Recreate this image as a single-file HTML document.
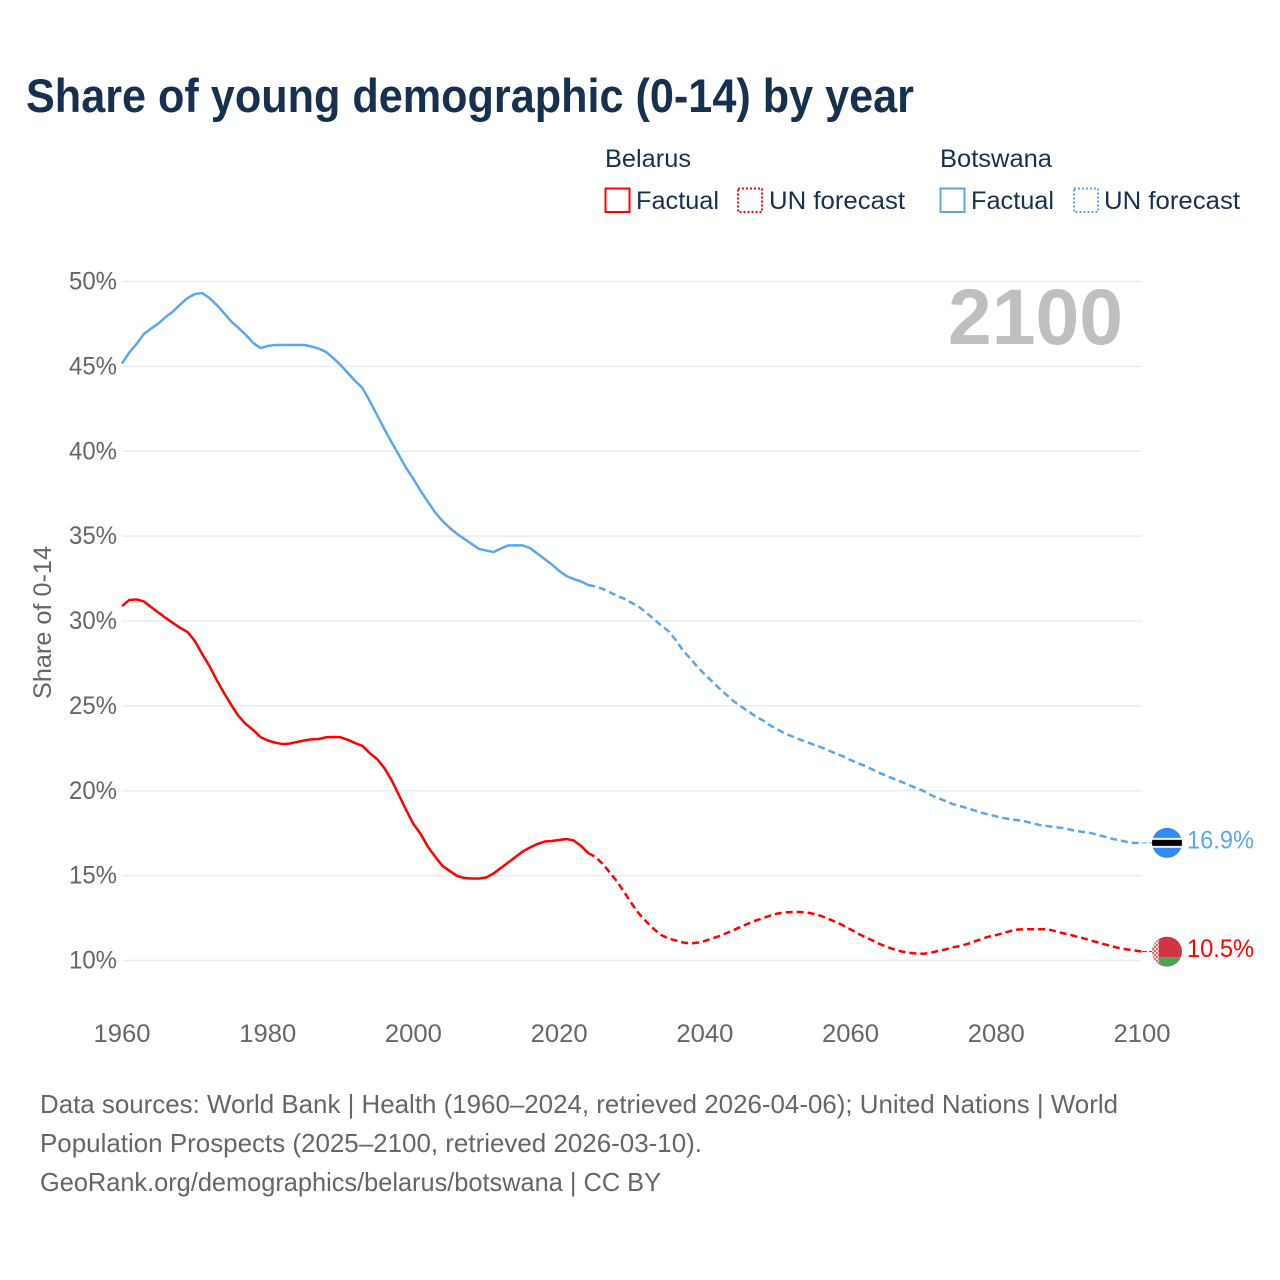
<!DOCTYPE html>
<html lang="en">
<head>
<meta charset="utf-8">
<title>Share of young demographic (0-14) by year</title>
<style>
html,body{margin:0;padding:0;background:#fff}
svg{display:block}
text{font-family:"Liberation Sans",sans-serif}
</style>
</head>
<body>
<svg id="chart" xmlns="http://www.w3.org/2000/svg" width="1280" height="1280" viewBox="0 0 1280 1280">
  <defs>
    <clipPath id="clip-bw"><circle id="clip-bw-c" cx="1167" cy="843" r="15"/></clipPath>
    <clipPath id="clip-by"><circle id="clip-by-c" cx="1167" cy="951.5" r="15"/></clipPath>
    <pattern id="by-ornament" width="4" height="4" patternUnits="userSpaceOnUse">
      <rect width="4" height="4" fill="#f6d5d7"/>
      <rect width="2" height="2" fill="#df6b75"/>
      <rect x="2" y="2" width="2" height="2" fill="#df6b75"/>
    </pattern>
  </defs>
  <rect width="1280" height="1280" fill="#ffffff"/>
  <text x="26" y="112" font-size="47" font-weight="700" fill="#18304f" textLength="888" lengthAdjust="spacingAndGlyphs">Share of young demographic (0-14) by year</text>

  <g>
    <text x="605" y="167" font-size="25" fill="#18304f" textLength="86" lengthAdjust="spacingAndGlyphs">Belarus</text>
    <rect x="605.5" y="188.5" width="24" height="23.5" fill="none" stroke="#ff0000" stroke-width="2"/>
    <text x="636" y="209" font-size="25" fill="#18304f" textLength="83" lengthAdjust="spacingAndGlyphs">Factual</text>
    <rect x="738" y="188.5" width="24" height="23.5" fill="none" stroke="#ff0000" stroke-width="2" stroke-dasharray="2 2"/>
    <text x="769" y="209" font-size="25" fill="#18304f" textLength="136" lengthAdjust="spacingAndGlyphs">UN forecast</text>
    <text x="940" y="167" font-size="25" fill="#18304f" textLength="112" lengthAdjust="spacingAndGlyphs">Botswana</text>
    <rect x="940.5" y="188.5" width="24" height="23.5" fill="none" stroke="#5ba7ee" stroke-width="2"/>
    <text x="971" y="209" font-size="25" fill="#18304f" textLength="83" lengthAdjust="spacingAndGlyphs">Factual</text>
    <rect x="1074" y="188.5" width="24" height="23.5" fill="none" stroke="#5ba7ee" stroke-width="2" stroke-dasharray="2 2"/>
    <text x="1104" y="209" font-size="25" fill="#18304f" textLength="136" lengthAdjust="spacingAndGlyphs">UN forecast</text>
  </g>

  <g id="grid"></g>
  <g id="y-ticks"></g>
  <g id="x-ticks"></g>

  <text transform="translate(51,622.5) rotate(-90)" text-anchor="middle" font-size="25" fill="#666666" textLength="153" lengthAdjust="spacingAndGlyphs">Share of 0-14</text>
  <text x="948" y="344" font-size="79" font-weight="700" fill="#bfbfbf" textLength="175" lengthAdjust="spacingAndGlyphs">2100</text>

  <g id="series"></g>

  <g id="flag-botswana" clip-path="url(#clip-bw)">
    <rect id="bw-blue" x="1152" y="828" width="30" height="30" fill="#338af3"/>
    <rect id="bw-white" x="1152" y="838" width="30" height="10" fill="#f0f0f0"/>
    <rect id="bw-black" x="1152" y="840" width="30" height="6" fill="#000000"/>
  </g>
  <g id="flag-belarus" clip-path="url(#clip-by)">
    <rect id="by-red" x="1152" y="936.5" width="30" height="20.5" fill="#ce3545"/>
    <rect id="by-green" x="1152" y="957" width="30" height="10" fill="#4ea352"/>
    <rect id="by-orn" x="1152" y="936.5" width="7" height="30" fill="url(#by-ornament)"/>
  </g>
  <text id="label-botswana" x="1187" y="849" font-size="25" fill="#5ba7ee" textLength="67" lengthAdjust="spacingAndGlyphs">16.9%</text>
  <text id="label-belarus" x="1187" y="958" font-size="25" fill="#ff0000" textLength="67" lengthAdjust="spacingAndGlyphs">10.5%</text>

  <g>
    <text x="40" y="1113" font-size="26" fill="#666666" textLength="1078" lengthAdjust="spacingAndGlyphs">Data sources: World Bank | Health (1960–2024, retrieved 2026-04-06); United Nations | World</text>
    <text x="40" y="1152" font-size="26" fill="#666666" textLength="662" lengthAdjust="spacingAndGlyphs">Population Prospects (2025–2100, retrieved 2026-03-10).</text>
    <text x="40" y="1191" font-size="26" fill="#666666" textLength="621" lengthAdjust="spacingAndGlyphs">GeoRank.org/demographics/belarus/botswana | CC BY</text>
  </g>
</svg>
<script>
const startYear = 1960;
const lastFactualYear = 2024;
const yTickValues = [10, 15, 20, 25, 30, 35, 40, 45, 50];
const xTickYears = [1960, 1980, 2000, 2020, 2040, 2060, 2080, 2100];

const belarusValues = [
30.88,31.24,31.27,31.15,30.82,30.50,30.18,29.88,29.59,29.35,
28.82,28.06,27.35,26.52,25.76,25.05,24.40,23.93,23.58,23.17,
22.96,22.84,22.75,22.78,22.87,22.96,23.03,23.05,23.15,23.17,
23.15,23.00,22.81,22.64,22.22,21.87,21.34,20.63,19.75,18.87,
18.04,17.45,16.69,16.10,15.57,15.27,14.98,14.86,14.83,14.83,
14.89,15.13,15.45,15.77,16.10,16.42,16.66,16.86,17.01,17.04,
17.10,17.16,17.07,16.75,16.33,16.10,15.68,15.16,14.63,13.98,
13.33,12.74,12.27,11.86,11.50,11.30,11.18,11.06,11.01,11.05,
11.15,11.30,11.44,11.62,11.80,12.00,12.18,12.36,12.50,12.65,
12.77,12.83,12.86,12.86,12.83,12.74,12.62,12.44,12.27,12.06,
11.83,11.59,11.38,11.18,10.97,10.80,10.65,10.53,10.45,10.41,
10.40,10.45,10.56,10.65,10.77,10.85,10.97,11.12,11.27,11.41,
11.50,11.62,11.74,11.83,11.84,11.84,11.84,11.84,11.74,11.62,
11.53,11.41,11.30,11.18,11.06,10.94,10.82,10.72,10.65,10.59,
10.52];

const botswanaValues = [
45.17,45.82,46.32,46.91,47.23,47.53,47.91,48.23,48.65,49.03,
49.26,49.32,49.03,48.62,48.14,47.64,47.26,46.85,46.38,46.08,
46.20,46.26,46.26,46.26,46.26,46.26,46.17,46.05,45.85,45.49,
45.08,44.61,44.14,43.73,42.96,42.14,41.31,40.54,39.78,39.01,
38.37,37.66,37.01,36.39,35.89,35.48,35.13,34.83,34.54,34.24,
34.15,34.06,34.27,34.45,34.46,34.45,34.30,33.98,33.65,33.33,
32.95,32.65,32.47,32.33,32.12,32.03,31.89,31.68,31.47,31.30,
31.06,30.82,30.47,30.12,29.73,29.41,28.88,28.26,27.79,27.29,
26.85,26.44,26.02,25.64,25.26,24.96,24.67,24.37,24.14,23.84,
23.61,23.37,23.20,23.02,22.87,22.70,22.55,22.37,22.19,22.02,
21.81,21.63,21.46,21.25,21.05,20.87,20.69,20.52,20.34,20.16,
19.99,19.75,19.57,19.40,19.22,19.10,18.98,18.84,18.70,18.60,
18.49,18.39,18.31,18.26,18.19,18.08,17.98,17.92,17.86,17.81,
17.72,17.63,17.57,17.51,17.39,17.28,17.16,17.07,16.98,16.92,
16.93];

const SVG_NS = 'http://www.w3.org/2000/svg';
const plot = { left: 122, right: 1142, top: 281.5, bottom: 960.5 };

function xScale(year) {
  return plot.left + (year - 1960) * (plot.right - plot.left) / 140;
}
function yScale(value) {
  return plot.bottom - (value - 10) * (plot.bottom - plot.top) / 40;
}
function pointsFor(values, from, to) {
  const out = [];
  for (let y = from; y <= to; y++) {
    out.push(xScale(y).toFixed(2) + ',' + yScale(values[y - startYear]).toFixed(2));
  }
  return out.join(' ');
}
function make(tag, parent, attrs) {
  const el = document.createElementNS(SVG_NS, tag);
  for (const k in attrs) el.setAttribute(k, attrs[k]);
  parent.appendChild(el);
  return el;
}

const gridGroup = document.getElementById('grid');
const yTickGroup = document.getElementById('y-ticks');
const xTickGroup = document.getElementById('x-ticks');
const seriesGroup = document.getElementById('series');

yTickValues.forEach(function (v) {
  const line = make('line', gridGroup, { x1: plot.left, x2: plot.right, y1: yScale(v), y2: yScale(v), stroke: '#ececec', 'stroke-width': 1.5 });
  
  
  const label = make('text', yTickGroup, { x: 69, y: yScale(v) + 8, 'font-size': 25, fill: '#666666', textLength: 48, lengthAdjust: 'spacingAndGlyphs' });
  label.textContent = v + '%';
  
  
});

xTickYears.forEach(function (yr) {
  const label = make('text', xTickGroup, { x: xScale(yr) - 28.5, y: 1042, 'font-size': 25, fill: '#666666', textLength: 57, lengthAdjust: 'spacingAndGlyphs' });
  label.textContent = String(yr);
  
  
});

function drawSeries(name, values, color) {
  const endYear = startYear + values.length - 1;
  const factual = make('polyline', seriesGroup, { points: pointsFor(values, startYear, lastFactualYear), fill: 'none', stroke: color, 'stroke-width': 2.5, 'stroke-linejoin': 'round' });
  
  
  const forecast = make('polyline', seriesGroup, { points: pointsFor(values, lastFactualYear, endYear), fill: 'none', stroke: color, 'stroke-width': 2.5, 'stroke-linejoin': 'round', 'stroke-dasharray': '7 4' });
  
  
  const endY = yScale(values[values.length - 1]);
  const connector = make('line', seriesGroup, { x1: xScale(endYear), x2: 1152, y1: endY, y2: endY, stroke: color, 'stroke-width': 1, 'stroke-dasharray': '5 2' });
  
  
  return endY;
}

const belarusEndY = drawSeries('belarus', belarusValues, '#ff0000');
const botswanaEndY = drawSeries('botswana', botswanaValues, '#5ba7ee');

function place(id, attr, value) {
  document.getElementById(id).setAttribute(attr, value);
}
place('clip-bw-c', 'cy', botswanaEndY);
place('bw-blue', 'y', botswanaEndY - 15);
place('bw-white', 'y', botswanaEndY - 5);
place('bw-black', 'y', botswanaEndY - 3);
place('label-botswana', 'y', botswanaEndY + 5.5);
place('clip-by-c', 'cy', belarusEndY);
place('by-red', 'y', belarusEndY - 15);
place('by-green', 'y', belarusEndY + 5.5);
place('by-orn', 'y', belarusEndY - 15);
place('label-belarus', 'y', belarusEndY + 5.5);
document.getElementById('label-belarus').textContent = belarusValues[belarusValues.length - 1].toFixed(1) + '%';
document.getElementById('label-botswana').textContent = botswanaValues[botswanaValues.length - 1].toFixed(1) + '%';
</script>
</body>
</html>
